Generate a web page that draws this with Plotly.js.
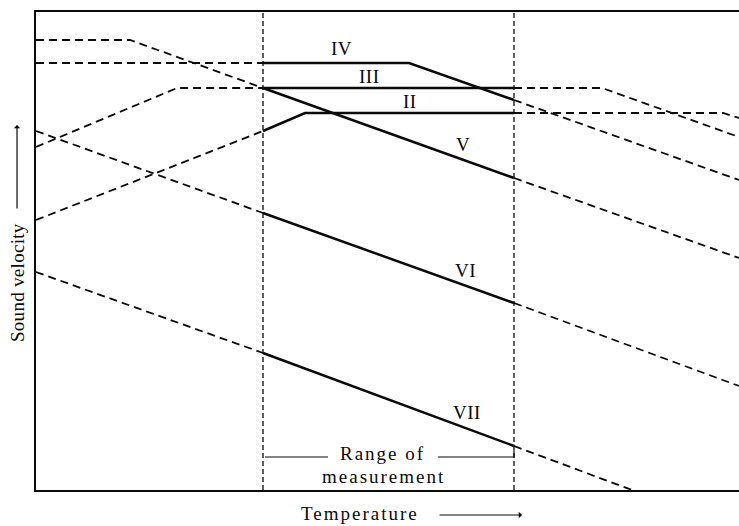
<!DOCTYPE html>
<html>
<head>
<meta charset="utf-8">
<script src="https://cdn.plot.ly/plotly-3.0.1.min.js"></script>
<style>
  html, body { margin: 0; padding: 0; background: #fff; }
  #chart { width: 739px; height: 526px; }
  /* loose letter spacing, as in the printed figure */
  .annotation-text { letter-spacing: 2px; }
</style>
</head>
<body>
<div id="chart"></div>
<script>
// Temperature (arbitrary units) and sound velocity (arbitrary units) for each curve
const T_II  = [0, 227, 269, 478, 687, 703];
const V_II  = [270, 359, 377, 377, 377, 372];
const T_III = [0, 141, 227, 478, 566, 703];
const V_III = [343, 402, 402, 402, 402, 353];
const T_IV  = [0, 227, 373, 478, 703];
const V_IV  = [427, 427, 427, 390, 310];
const T_V   = [0, 94, 227, 478, 703];
const V_V   = [450, 450, 402, 312, 232];
const T_VI  = [0, 227, 478, 703];
const V_VI  = [359, 277, 187, 104];
const T_VII = [0, 227, 478, 596];
const V_VII = [218, 137, 44, 0];

const curveNames = ['II', 'III', 'IV', 'V', 'VI', 'VII'];
const curveT = [T_II, T_III, T_IV, T_V, T_VI, T_VII];
const curveV = [V_II, V_III, V_IV, V_V, V_VI, V_VII];

// limits of the measured temperature range
const rangeLimits = [227, 478];
const tMax = 703, vMax = 478;

const ink = '#0a0a0a';
const traces = [];

// each curve: dashed outside the measured range, solid inside it
function addCurve(T, V) {
  const [lo, hi] = rangeLimits;
  const parts = [
    { keep: t => t <= lo, solid: false },
    { keep: t => t >= lo && t <= hi, solid: true },
    { keep: t => t >= hi, solid: false }
  ];
  parts.forEach(p => {
    const xs = [], ys = [];
    T.forEach((t, i) => { if (p.keep(t)) { xs.push(t); ys.push(V[i]); } });
    if (xs.length < 2) return;
    traces.push({
      x: xs, y: ys, type: 'scatter', mode: 'lines', hoverinfo: 'skip',
      line: p.solid ? { color: ink, width: 2.5 }
                    : { color: ink, width: 1.8, dash: '8px,5px' }
    });
  });
}
curveT.forEach((T, i) => addCurve(T, curveV[i]));

// vertical boundaries of the measured range
rangeLimits.forEach(t => {
  traces.push({
    x: [t, t], y: [0, vMax], type: 'scatter', mode: 'lines', hoverinfo: 'skip',
    line: { color: ink, width: 1.3, dash: '5px,3px' }
  });
});

// bracket marks beside "Range of"
const bracketY = 33;
traces.push({
  x: [rangeLimits[0] + 2, 292], y: [bracketY, bracketY], type: 'scatter', mode: 'lines',
  hoverinfo: 'skip', line: { color: ink, width: 1.2 }
});
traces.push({
  x: [402, rangeLimits[1], rangeLimits[1]], y: [bracketY, bracketY, bracketY + 7],
  type: 'scatter', mode: 'lines', hoverinfo: 'skip', line: { color: ink, width: 1.2 }
});

const serif = 'Liberation Serif, Times New Roman, serif';
const labelFont = { family: serif, size: 19, color: ink };

// curve labels
const labelPos = {
  IV:  [305, 442],
  III: [333, 414],
  II:  [374, 389],
  V:   [427, 346],
  VI:  [429, 220],
  VII: [431, 78]
};
const annotations = Object.keys(labelPos).map(k => ({
  x: labelPos[k][0], y: labelPos[k][1], xref: 'x', yref: 'y',
  xanchor: 'center', yanchor: 'middle',
  text: '<span style="letter-spacing:0.5px">' + k + '</span>',
  showarrow: false, font: labelFont
}));

annotations.push(
  { x: 346, y: 37, xref: 'x', yref: 'y', xanchor: 'center', yanchor: 'middle',
    text: 'Range of', showarrow: false, font: labelFont },
  { x: 347, y: 14, xref: 'x', yref: 'y', xanchor: 'center', yanchor: 'middle',
    text: 'measurement', showarrow: false, font: labelFont },
  // axis captions with their arrows
  { x: 0.461, y: -0.0502, xref: 'paper', yref: 'paper', xanchor: 'center', yanchor: 'middle',
    text: 'Temperature', showarrow: false, font: labelFont },
  { x: 0.6913, y: -0.0523, xref: 'paper', yref: 'paper', text: '',
    showarrow: true, ax: -84, ay: 0, arrowhead: 1, arrowsize: 0.9, arrowwidth: 1.2,
    arrowcolor: ink },
  { x: -0.027, y: 0.433, xref: 'paper', yref: 'paper', xanchor: 'center', yanchor: 'middle',
    text: '<span style="letter-spacing:0.3px">Sound velocity</span>', textangle: -90,
    showarrow: false, font: labelFont },
  { x: -0.027, y: 0.7636, xref: 'paper', yref: 'paper', text: '',
    showarrow: true, ax: 0, ay: 85, arrowhead: 1, arrowsize: 0.9, arrowwidth: 1.2,
    arrowcolor: ink }
);

const axisCommon = {
  showgrid: false, zeroline: false, showticklabels: false, ticks: '',
  showline: true, linecolor: ink, linewidth: 1.6, fixedrange: true
};

const layout = {
  width: 739, height: 526,
  margin: { l: 36, r: 0, t: 12, b: 36 },
  paper_bgcolor: '#fff', plot_bgcolor: '#fff',
  showlegend: false,
  xaxis: Object.assign({}, axisCommon, { range: [0, tMax], mirror: true }),
  yaxis: Object.assign({}, axisCommon, { range: [0, vMax] }),
  annotations: annotations
};

Plotly.newPlot('chart', traces, layout, { staticPlot: true, displayModeBar: false });
</script>
</body>
</html>
